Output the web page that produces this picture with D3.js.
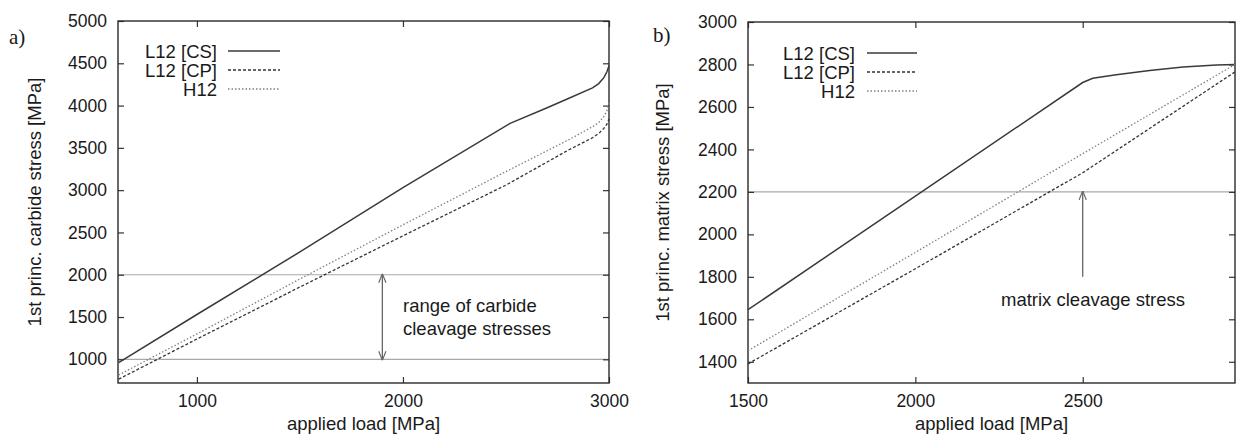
<!DOCTYPE html>
<html><head><meta charset="utf-8">
<script src="https://cdn.jsdelivr.net/npm/d3@7"></script>
<style>
html,body{margin:0;padding:0;background:#fff;}
svg text{fill:#1a1a1a;}
</style></head><body>
<svg id="chart" width="1236" height="434"></svg>
<script>
// ---------- Panel a: carbide stress ----------
const aTicksX = [1000, 2000, 3000];
const aTicksY = [1000, 1500, 2000, 2500, 3000, 3500, 4000, 4500, 5000];
const aLoadCS = [620, 1000, 1500, 2000, 2520, 2700, 2800, 2920, 2950, 2975, 2990, 3000];
const aStressCS = [960, 1530, 2270, 3030, 3790, 3975, 4080, 4210, 4260, 4330, 4400, 4470];
const aLoadCP = [620, 1000, 1500, 2000, 2500, 2800, 2920, 2950, 2975, 2990, 3000];
const aStressCP = [765, 1240, 1855, 2460, 3060, 3470, 3620, 3670, 3730, 3780, 3840];
const aLoadH12 = [620, 1000, 1500, 2000, 2500, 2800, 2920, 2950, 2975, 2990, 3000];
const aStressH12 = [815, 1300, 1950, 2590, 3220, 3590, 3750, 3800, 3870, 3940, 4030];
const aCleavage = [1000, 2000];
const aArrowLoad = 1900;

// ---------- Panel b: matrix stress ----------
const bTicksX = [1500, 2000, 2500];
const bTicksY = [1400, 1600, 1800, 2000, 2200, 2400, 2600, 2800, 3000];
const bLoadCS = [1500, 2000, 2500, 2530, 2600, 2700, 2800, 2900, 2955];
const bStressCS = [1645, 2180, 2715, 2735, 2752, 2772, 2788, 2797, 2800];
const bLoadCP = [1500, 2000, 2500, 2955];
const bStressCP = [1390, 1838, 2290, 2765];
const bLoadH12 = [1500, 2000, 2500, 2955];
const bStressH12 = [1452, 1915, 2380, 2800];
const bCleavage = [2200];
const bArrowLoad = 2500;
const bArrowFrom = 1800;

const seriesNames = ["L12 [CS]", "L12 [CP]", "H12"];

const SANS = "'Liberation Sans', Arial, Helvetica, sans-serif";
const SERIF = "'Liberation Serif', 'Times New Roman', serif";

const svg = d3.select("#chart");
const defs = svg.append("defs");
function marker(id, orient){
  defs.append("marker").attr("id", id).attr("viewBox","0 0 10 10")
    .attr("refX", 10).attr("refY", 5).attr("markerWidth", 9).attr("markerHeight", 9)
    .attr("markerUnits","userSpaceOnUse").attr("orient", orient)
    .append("path").attr("d","M0,1 L10,5 L0,9").attr("fill","none")
    .attr("stroke","#666").attr("stroke-width",1.3);
}
marker("arrEnd","auto");
marker("arrStart","auto-start-reverse");

const styles = [
  {stroke:"#3a3a3a", width:1.5, dash:null},
  {stroke:"#333", width:1.3, dash:"3,2"},
  {stroke:"#808080", width:1.3, dash:"1.5,2"}
];

function txt(g, s, size, family){
  return g.append("text").style("font-family", family || SANS).style("font-size", size || "18.5px").text(s);
}

function panel(cfg){
  const g = svg.append("g");
  const x = d3.scaleLinear().domain(cfg.xDomain).range([cfg.left, cfg.right]);
  const y = d3.scaleLinear().domain(cfg.yDomain).range([cfg.bottom, cfg.top]);

  // reference lines
  cfg.cleavage.forEach(v=>{
    g.append("line").attr("x1",x(cfg.xDomain[0])).attr("x2",x(cfg.xDomain[1]))
      .attr("y1",y(v)).attr("y2",y(v)).attr("stroke","#a8a8a8").attr("stroke-width",1.2);
  });

  // axes with inward ticks, mirrored
  const fmt = d3.format("d");
  const axB = d3.axisBottom(x).tickValues(cfg.ticksX).tickSize(-6).tickPadding(12).tickFormat(fmt);
  const axT = d3.axisTop(x).tickValues(cfg.ticksX).tickSize(-6).tickFormat("");
  const axL = d3.axisLeft(y).tickValues(cfg.ticksY).tickSize(-6).tickPadding(11).tickFormat(fmt);
  const axR = d3.axisRight(y).tickValues(cfg.ticksY).tickSize(-6).tickFormat("");
  const gb = g.append("g").attr("transform",`translate(0,${cfg.bottom})`).call(axB);
  const gt = g.append("g").attr("transform",`translate(0,${cfg.top})`).call(axT);
  const gl = g.append("g").attr("transform",`translate(${cfg.left},0)`).call(axL);
  const gr = g.append("g").attr("transform",`translate(${cfg.right},0)`).call(axR);
  [gb,gt,gl,gr].forEach(a=>{
    a.select(".domain").remove();
    a.selectAll(".tick line").attr("stroke","#333").attr("stroke-width",1.2);
    a.selectAll("text").style("font-size","17.5px").style("font-family",SANS).attr("fill","#1a1a1a");
  });
  g.append("rect").attr("x",cfg.left).attr("y",cfg.top)
    .attr("width",cfg.right-cfg.left).attr("height",cfg.bottom-cfg.top)
    .attr("fill","none").attr("stroke","#2a2a2a").attr("stroke-width",1.4);

  // series
  const line = d3.line().x(d=>x(d[0])).y(d=>y(d[1]));
  cfg.series.forEach((s,i)=>{
    const pts = s.load.map((l,k)=>[l, s.stress[k]]);
    const p = g.append("path").attr("d", line(pts)).attr("fill","none")
      .attr("stroke", styles[i].stroke).attr("stroke-width", styles[i].width);
    if(styles[i].dash) p.attr("stroke-dasharray", styles[i].dash);
  });

  // legend
  seriesNames.forEach((n,i)=>{
    const yy = cfg.legY + i*19;
    txt(g, n).attr("x",cfg.legTextX).attr("y",yy+6.5).attr("text-anchor","end");
    const l = g.append("line").attr("x1",cfg.legX1).attr("x2",cfg.legX2).attr("y1",yy).attr("y2",yy)
      .attr("stroke",styles[i].stroke).attr("stroke-width",styles[i].width);
    if(styles[i].dash) l.attr("stroke-dasharray",styles[i].dash);
  });

  // labels
  txt(g, "applied load [MPa]").attr("x",(cfg.left+cfg.right)/2).attr("y",430).attr("text-anchor","middle");
  txt(g, cfg.yLabel).attr("transform",`translate(${cfg.yLabelX},${(cfg.top+cfg.bottom)/2}) rotate(-90)`)
    .attr("text-anchor","middle");
  txt(g, cfg.tag, "21px", SERIF).attr("x",cfg.tagX).attr("y",cfg.tagY);
  return {g,x,y};
}

// Panel a
const A = panel({
  left:118, right:609, top:21, bottom:383,
  xDomain:[617,3000], yDomain:[720,5000],
  ticksX:aTicksX, ticksY:aTicksY, cleavage:aCleavage,
  series:[{load:aLoadCS,stress:aStressCS},{load:aLoadCP,stress:aStressCP},{load:aLoadH12,stress:aStressH12}],
  legTextX:217, legX1:228, legX2:280, legY:51,
  yLabelX:41, yLabel:"1st princ. carbide stress [MPa]", tag:"a)", tagX:9, tagY:44
});
A.g.append("line").attr("x1",A.x(aArrowLoad)).attr("x2",A.x(aArrowLoad))
  .attr("y1",A.y(aCleavage[0])+1).attr("y2",A.y(aCleavage[1])-1)
  .attr("stroke","#666").attr("stroke-width",1.3)
  .attr("marker-start","url(#arrStart)").attr("marker-end","url(#arrEnd)");
txt(A.g, "range of carbide").attr("x",403).attr("y",312);
txt(A.g, "cleavage stresses").attr("x",403).attr("y",335);

// Panel b
const B = panel({
  left:748, right:1235, top:22, bottom:383,
  xDomain:[1500,2955], yDomain:[1300,3000],
  ticksX:bTicksX, ticksY:bTicksY, cleavage:bCleavage,
  series:[{load:bLoadCS,stress:bStressCS},{load:bLoadCP,stress:bStressCP},{load:bLoadH12,stress:bStressH12}],
  legTextX:855, legX1:867, legX2:917, legY:53,
  yLabelX:669, yLabel:"1st princ. matrix stress [MPa]", tag:"b)", tagX:653, tagY:42
});
B.g.append("line").attr("x1",B.x(bArrowLoad)).attr("x2",B.x(bArrowLoad))
  .attr("y1",B.y(bArrowFrom)).attr("y2",B.y(bCleavage[0])-1)
  .attr("stroke","#666").attr("stroke-width",1.3).attr("marker-end","url(#arrEnd)");
txt(B.g, "matrix cleavage stress").attr("x",1001).attr("y",306);
</script>
</body></html>
